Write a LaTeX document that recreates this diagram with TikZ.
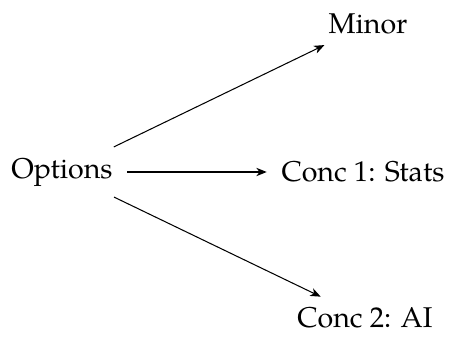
\documentclass[tikz,border=0pt]{standalone}
\usepackage{fontspec}
\setmainfont{TeX Gyre Pagella}
\usetikzlibrary{arrows.meta}
\begin{document}
\begin{tikzpicture}[x=0.3846pt,y=-0.3846pt,
  lbl/.style={inner xsep=5.5pt,inner ysep=4pt,font=\fontsize{11}{13}\selectfont},
  conn/.style={-{Stealth[length=4pt,width=3.2pt,inset=1.2pt]},line width=0.4pt}]
\useasboundingbox (0,0) rectangle (450,339);
\node[lbl] (opt) at (62,172) {Options};
\node[lbl] (minor) at (368,24) {Minor};
\node[lbl] (c1) at (363,172) {Conc 1: Stats};
\node[lbl] (c2) at (365,318) {Conc 2: AI};
\draw[conn] (opt) -- (minor);
\draw[conn] (opt) -- (c1);
\draw[conn] (opt) -- (c2);
\end{tikzpicture}
\end{document}
